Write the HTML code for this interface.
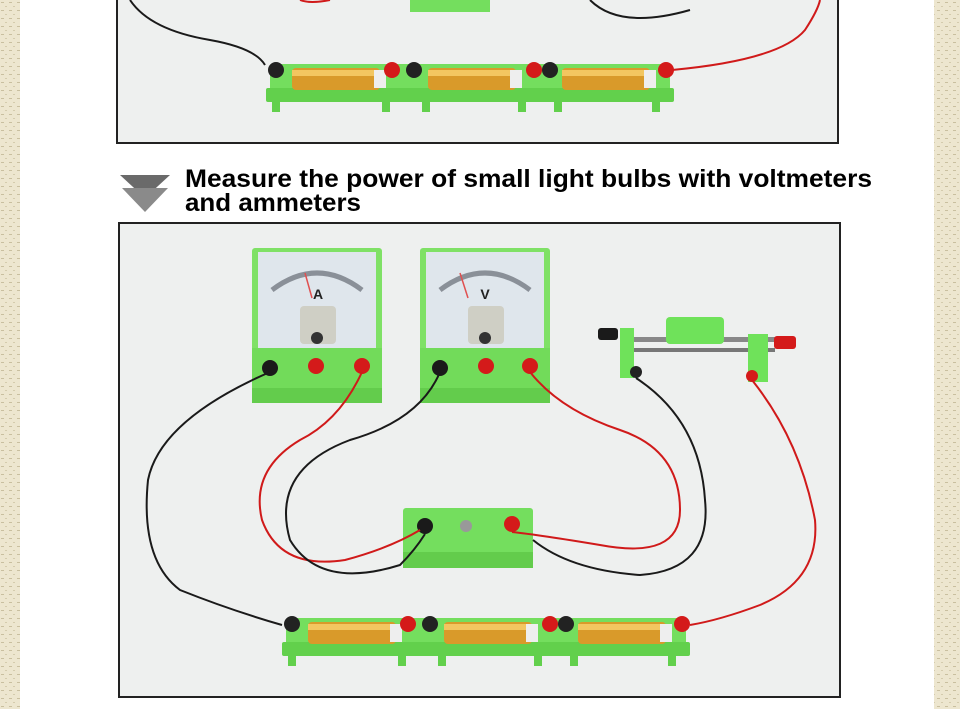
<!DOCTYPE html>
<html><head><meta charset="utf-8"><style>
html,body{margin:0;padding:0;width:960px;height:709px;overflow:hidden;background:#fff;}
svg{display:block}
</style></head><body>
<svg width="960" height="709" viewBox="0 0 960 709" xmlns="http://www.w3.org/2000/svg">
<defs>
<pattern id="tex" width="8" height="8" patternUnits="userSpaceOnUse">
<rect width="8" height="8" fill="#ede6cf"/><rect x="1" y="2" width="3" height="1" fill="#c9bf9f"/><rect x="5" y="6" width="2" height="1" fill="#d4cbad"/>
</pattern>
<g id="hold">
<rect x="8" y="6" width="400" height="36" fill="#74de5e" rx="3"/>
<rect x="4" y="30" width="408" height="14" fill="#62d04c" rx="2"/>
<rect x="30" y="10" width="88" height="22" fill="#d99a2a" rx="4"/><rect x="30" y="12" width="88" height="6" fill="#f3c660"/>
<rect x="166" y="10" width="88" height="22" fill="#d99a2a" rx="4"/><rect x="166" y="12" width="88" height="6" fill="#f3c660"/>
<rect x="300" y="10" width="88" height="22" fill="#d99a2a" rx="4"/><rect x="300" y="12" width="88" height="6" fill="#f3c660"/>
<rect x="112" y="12" width="12" height="18" fill="#eee"/><rect x="248" y="12" width="12" height="18" fill="#eee"/><rect x="382" y="12" width="12" height="18" fill="#eee"/>
<circle cx="14" cy="12" r="8" fill="#222"/><circle cx="130" cy="12" r="8" fill="#d41a1a"/><circle cx="152" cy="12" r="8" fill="#222"/>
<circle cx="272" cy="12" r="8" fill="#d41a1a"/><circle cx="288" cy="12" r="8" fill="#222"/><circle cx="404" cy="12" r="8" fill="#d41a1a"/>
<rect x="10" y="42" width="8" height="12" fill="#62d04c"/><rect x="120" y="42" width="8" height="12" fill="#62d04c"/><rect x="160" y="42" width="8" height="12" fill="#62d04c"/><rect x="256" y="42" width="8" height="12" fill="#62d04c"/><rect x="292" y="42" width="8" height="12" fill="#62d04c"/><rect x="390" y="42" width="8" height="12" fill="#62d04c"/>
</g>
<g id="meter">
<rect x="0" y="0" width="130" height="104" fill="#7fe166" rx="3"/>
<rect x="6" y="4" width="118" height="96" fill="#dfe6ec"/>
<path d="M20 42 Q65 8 110 42" fill="none" stroke="#8a9098" stroke-width="5"/>
<rect x="48" y="58" width="36" height="38" fill="#cfcfc5" rx="4"/>
<circle cx="65" cy="90" r="6" fill="#333"/>
<rect x="0" y="100" width="130" height="55" fill="#72db5a"/>
<rect x="0" y="140" width="130" height="15" fill="#63cc4c"/>
</g>
</defs>
<rect width="960" height="709" fill="#fff"/>
<rect x="0" y="0" width="20" height="709" fill="url(#tex)"/>
<rect x="934" y="0" width="26" height="709" fill="url(#tex)"/>

<rect x="117" y="-5" width="721" height="148" fill="#eef0ef" stroke="#222" stroke-width="2"/>
<rect x="410" y="0" width="80" height="12" fill="#74de5e"/>
<path d="M130 0 Q150 30 210 40 Q255 48 265 65" fill="none" stroke="#1a1a1a" stroke-width="2"/>
<path d="M590 0 Q620 30 690 10" fill="none" stroke="#1a1a1a" stroke-width="2"/>
<path d="M300 0 Q310 4 330 0" fill="none" stroke="#d01a1a" stroke-width="2"/>
<path d="M672 70 Q780 60 805 30 Q818 10 820 0" fill="none" stroke="#d01a1a" stroke-width="2"/>
<use href="#hold" x="262" y="58"/>

<polygon points="120,175 170,175 145,198" fill="#6a6a6a"/>
<polygon points="122,188 168,188 145,212" fill="#8a8a8a"/>
<text x="185" y="187" font-family="Liberation Sans, sans-serif" font-weight="bold" font-size="25" fill="#000" textLength="687" lengthAdjust="spacingAndGlyphs">Measure the power of small light bulbs with voltmeters</text>
<text x="185" y="211" font-family="Liberation Sans, sans-serif" font-weight="bold" font-size="25" fill="#000" textLength="176" lengthAdjust="spacingAndGlyphs">and ammeters</text>

<rect x="119" y="223" width="721" height="474" fill="#eef0ef" stroke="#222" stroke-width="2"/>
<use href="#meter" x="252" y="248"/>
<use href="#meter" x="420" y="248"/>
<text x="318" y="299" font-family="Liberation Sans, sans-serif" font-weight="bold" font-size="14" text-anchor="middle" fill="#222">A</text>
<text x="485" y="299" font-family="Liberation Sans, sans-serif" font-weight="bold" font-size="14" text-anchor="middle" fill="#222">V</text>
<line x1="305" y1="273" x2="312" y2="298" stroke="#e05050" stroke-width="1.5"/>
<line x1="460" y1="273" x2="468" y2="298" stroke="#e05050" stroke-width="1.5"/>
<circle cx="270" cy="368" r="8" fill="#1a1a1a"/><circle cx="316" cy="366" r="8" fill="#d41a1a"/><circle cx="362" cy="366" r="8" fill="#d41a1a"/>
<circle cx="440" cy="368" r="8" fill="#1a1a1a"/><circle cx="486" cy="366" r="8" fill="#d41a1a"/><circle cx="530" cy="366" r="8" fill="#d41a1a"/>

<rect x="625" y="337" width="150" height="5" fill="#888"/><rect x="625" y="348" width="150" height="4" fill="#777"/>
<rect x="666" y="317" width="58" height="27" fill="#6fe25a" rx="4"/>
<rect x="620" y="328" width="14" height="50" fill="#6fe25a"/><rect x="748" y="334" width="20" height="48" fill="#6fe25a"/>
<rect x="598" y="328" width="20" height="12" fill="#1a1a1a" rx="3"/><rect x="774" y="336" width="22" height="13" fill="#d41a1a" rx="3"/>
<circle cx="636" cy="372" r="6" fill="#222"/><circle cx="752" cy="376" r="6" fill="#d41a1a"/>

<rect x="403" y="508" width="130" height="60" fill="#74de5e" rx="3"/>
<rect x="403" y="552" width="130" height="16" fill="#63cc4c"/>
<circle cx="425" cy="526" r="8" fill="#1a1a1a"/><circle cx="512" cy="524" r="8" fill="#d41a1a"/>
<circle cx="466" cy="526" r="6" fill="#999"/>

<g fill="none" stroke-width="2">
<path d="M270 372 Q160 420 148 480 Q140 560 180 590 Q230 610 282 625" stroke="#1a1a1a"/>
<path d="M362 372 Q340 420 300 440 Q250 470 262 520 Q280 570 345 560 Q390 548 420 530" stroke="#d01a1a"/>
<path d="M440 372 Q420 420 350 440 Q270 470 290 540 Q320 590 400 565 Q415 550 425 534" stroke="#1a1a1a"/>
<path d="M530 372 Q560 410 620 430 Q680 450 680 510 Q680 560 600 545 Q540 535 512 532" stroke="#d01a1a"/>
<path d="M636 378 Q700 420 705 500 Q712 570 640 575 Q570 570 533 540" stroke="#1a1a1a"/>
<path d="M752 380 Q800 440 815 520 Q820 580 760 605 Q720 620 690 625" stroke="#d01a1a"/>
</g>
<use href="#hold" x="278" y="612"/>
</svg>
</body></html>
